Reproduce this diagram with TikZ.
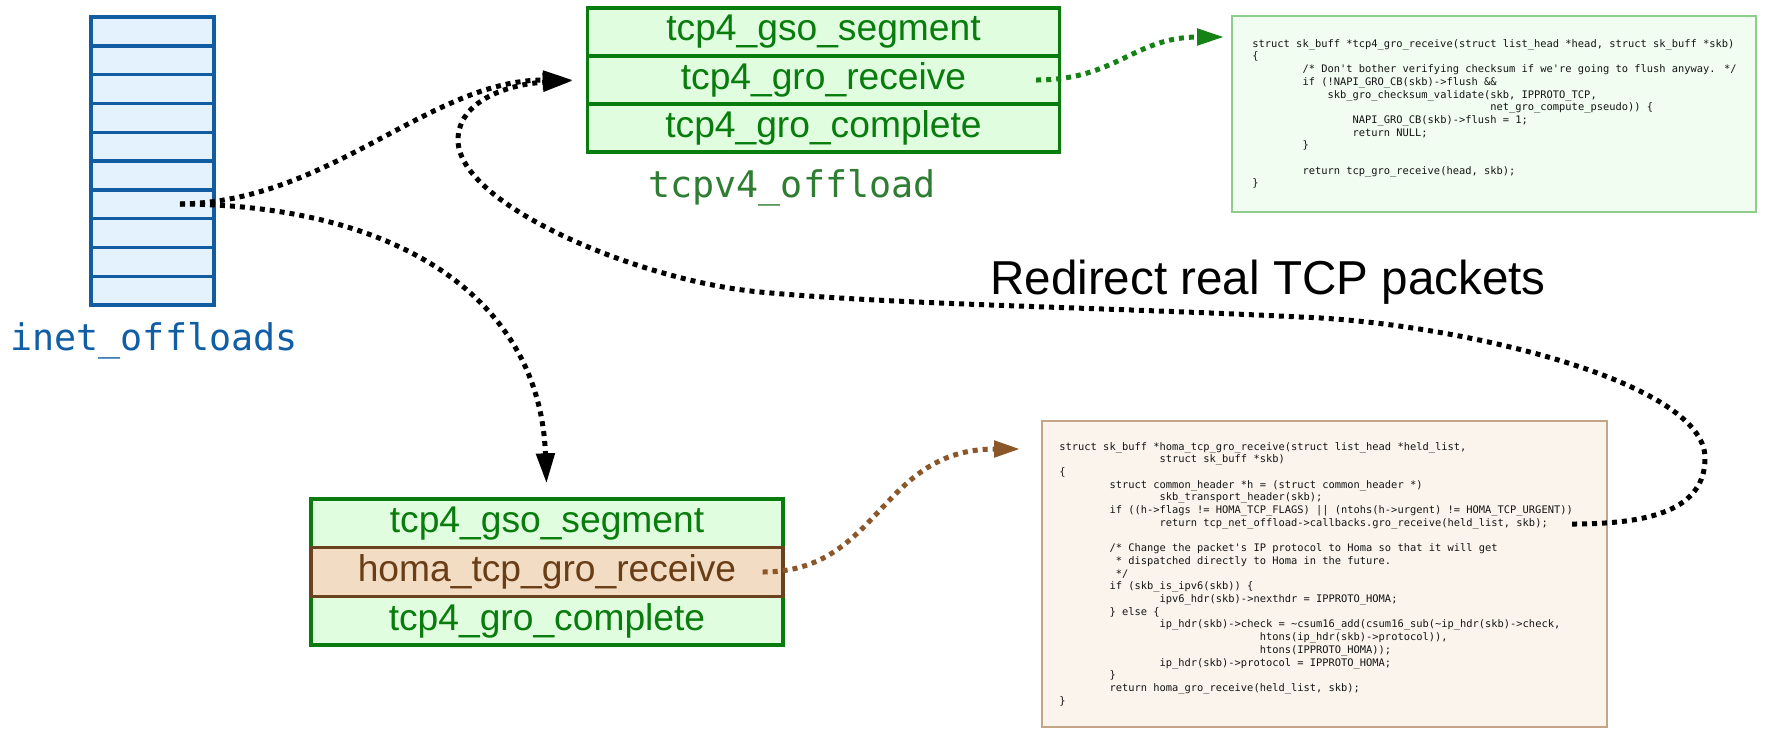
\documentclass[tikz,border=0pt]{standalone}
\usepackage{fontspec}
\setmainfont{Liberation Sans}
\newfontfamily\codefont{DejaVu Sans Mono}
\usetikzlibrary{arrows.meta}

\definecolor{arrblue}{RGB}{18,92,162}
\definecolor{arrfill}{RGB}{228,242,253}
\definecolor{arrlabel}{RGB}{18,94,166}
\definecolor{sgreen}{RGB}{8,124,12}
\definecolor{sfill}{RGB}{224,253,224}
\definecolor{tcplabel}{RGB}{46,125,50}
\definecolor{hbrown}{RGB}{105,66,30}
\definecolor{hfill}{RGB}{243,220,196}
\definecolor{htext}{RGB}{105,62,22}
\definecolor{barrow}{RGB}{139,86,40}
\definecolor{garrow}{RGB}{20,130,20}
\definecolor{ctopfill}{RGB}{240,253,240}
\definecolor{ctopdraw}{RGB}{140,205,140}
\definecolor{cbotfill}{RGB}{251,244,237}
\definecolor{cbotdraw}{RGB}{195,165,135}

% indentation by a number of monospace columns
\newcommand\ind[1]{\hspace*{#1\fontcharwd\font`0}}

\tikzset{
  cell/.style={draw=arrblue, fill=arrfill, line width=1.7pt, minimum width=61.5pt,
    minimum height=14.4pt, inner sep=0pt},
  slot/.style={draw=sgreen, fill=sfill, line width=1.7pt, minimum width=236pt,
    minimum height=24pt, inner sep=0pt, text=sgreen,
    font=\fontsize{18.6pt}{22pt}\selectfont},
  homaslot/.style={slot, draw=hbrown, fill=hfill, text=htext},
  sname/.style={font=\codefont\fontsize{18.35pt}{22pt}\selectfont, inner sep=0pt, anchor=base},
  codebox/.style={line width=1pt, inner sep=0pt},
  codetext/.style={font=\codefont\fontsize{5.2pt}{6.35pt}\selectfont, align=left,
    inner sep=0pt, anchor=west, text=black!92},
  dots/.style={line width=2.5pt, dash pattern=on 2.5pt off 2.5pt},
  bigtip/.style={-{Triangle[length=15pt,width=9pt]}},
}

\begin{document}
\begin{tikzpicture}[x=0.5pt, y=-0.5pt]
\fill[white] (0,0) rectangle (1786,730);
\useasboundingbox (0,0) rectangle (1786,730);

% the inet_offloads table
\foreach \i in {1,...,10}
  \node[cell] (cell\i) at (152.5,{17+28.8*(\i-0.5)}) {};
\node[sname, text=arrlabel] (inetlbl) at (154,350) {inet\_offloads};

% tcpv4_offload
\node[slot] (tgso)  at (823.5,32)  {tcp4\_gso\_segment};
\node[slot] (tgro)  at (823.5,80)  {tcp4\_gro\_receive};
\node[slot] (tcomp) at (823.5,128) {tcp4\_gro\_complete};
\node[sname, text=tcplabel] (tcplbl) at (792,197) {tcpv4\_offload};

% offload table with the Homa hook
\node[slot, minimum height=24.3pt] (bgso)  at (547,523.3) {tcp4\_gso\_segment};
\node[slot, minimum height=24.3pt] (bcomp) at (547,620.7) {tcp4\_gro\_complete};
\node[homaslot, minimum height=24.3pt] (bhoma) at (547,572) {homa\_tcp\_gro\_receive};

% source of tcp4_gro_receive
\node[codebox, draw=ctopdraw, fill=ctopfill, minimum width=262pt, minimum height=98pt]
  (codetop) at (1494,114) {};
\node[codetext] (codetoptext) at ([xshift=10.5pt]codetop.west) {%
struct sk\_buff *tcp4\_gro\_receive(struct list\_head *head, struct sk\_buff *skb)\\
\{\\
\ind{8}/* Don\textquotesingle{}t bother verifying checksum if we\textquotesingle{}re going to flush anyway. */\\
\ind{8}if (!NAPI\_GRO\_CB(skb)->flush \&\&\\
\ind{12}skb\_gro\_checksum\_validate(skb, IPPROTO\_TCP,\\
\ind{38}net\_gro\_compute\_pseudo)) \{\\
\ind{16}NAPI\_GRO\_CB(skb)->flush = 1;\\
\ind{16}return NULL;\\
\ind{8}\}\\
\mbox{}\\
\ind{8}return tcp\_gro\_receive(head, skb);\\
\}};

% source of homa_tcp_gro_receive
\node[codebox, draw=cbotdraw, fill=cbotfill, minimum width=282.5pt, minimum height=153pt]
  (codebot) at (1324.5,574) {};
\node[codetext] (codebottext) at ([xshift=9pt]codebot.west) {%
struct sk\_buff *homa\_tcp\_gro\_receive(struct list\_head *held\_list,\\
\ind{16}struct sk\_buff *skb)\\
\{\\
\ind{8}struct common\_header *h = (struct common\_header *)\\
\ind{16}skb\_transport\_header(skb);\\
\ind{8}if ((h->flags != HOMA\_TCP\_FLAGS) || (ntohs(h->urgent) != HOMA\_TCP\_URGENT))\\
\ind{16}return tcp\_net\_offload->callbacks.gro\_receive(held\_list, skb);\\
\mbox{}\\
\ind{8}/* Change the packet\textquotesingle{}s IP protocol to Homa so that it will get\\
\ind{9}* dispatched directly to Homa in the future.\\
\ind{9}*/\\
\ind{8}if (skb\_is\_ipv6(skb)) \{\\
\ind{16}ipv6\_hdr(skb)->nexthdr = IPPROTO\_HOMA;\\
\ind{8}\} else \{\\
\ind{16}ip\_hdr(skb)->check = \textasciitilde{}csum16\_add(csum16\_sub(\textasciitilde{}ip\_hdr(skb)->check,\\
\ind{32}htons(ip\_hdr(skb)->protocol)),\\
\ind{32}htons(IPPROTO\_HOMA));\\
\ind{16}ip\_hdr(skb)->protocol = IPPROTO\_HOMA;\\
\ind{8}\}\\
\ind{8}return homa\_gro\_receive(held\_list, skb);\\
\}};

\node[font=\fontsize{23.8pt}{28pt}\selectfont, anchor=base, inner sep=0pt]
  (redirect) at (1268,294) {Redirect real TCP packets};

% connectors
\coordinate (src) at (180,204);
\draw[dots, bigtip, shorten >=6.5pt] (src) .. controls (330,202) and (430,80) .. (tgro.west);
\draw[dots, bigtip, shorten >=7pt] (src) .. controls (400,205) and (540,300) .. (bgso.north);

\coordinate (rstart) at (1572,524);
\draw[dots, bigtip, shorten >=6.5pt] (rstart)
  .. controls (1650,524) and (1705,510) .. (1705,458)
  .. controls (1705,380) and (1450,322) .. (1300,317)
  .. controls (1100,307) and (900,305) .. (760,292)
  .. controls (640,281) and (458,205) .. (458,140)
  .. controls (458,100) and (510,84) .. (tgro.west);

\coordinate (gstart) at ([xshift=-12.5pt]tgro.east);
\coordinate (gtip) at ([xshift=-3.5pt,yshift=-11pt]codetop.north west);
\draw[dots, draw=garrow, -{Triangle[length=13.5pt,width=8pt]}]
  (gstart) .. controls +(80,0) and +(-90,0) .. (gtip);

\coordinate (bstart) at ([xshift=-11pt]bhoma.east);
\coordinate (btip) at ([xshift=-10.5pt,yshift=-14.5pt]codebot.north west);
\draw[dots, draw=barrow, -{Triangle[length=13pt,width=8pt]}]
  (bstart) .. controls +(118,0) and +(-141,0) .. (btip);
\end{tikzpicture}
\end{document}
